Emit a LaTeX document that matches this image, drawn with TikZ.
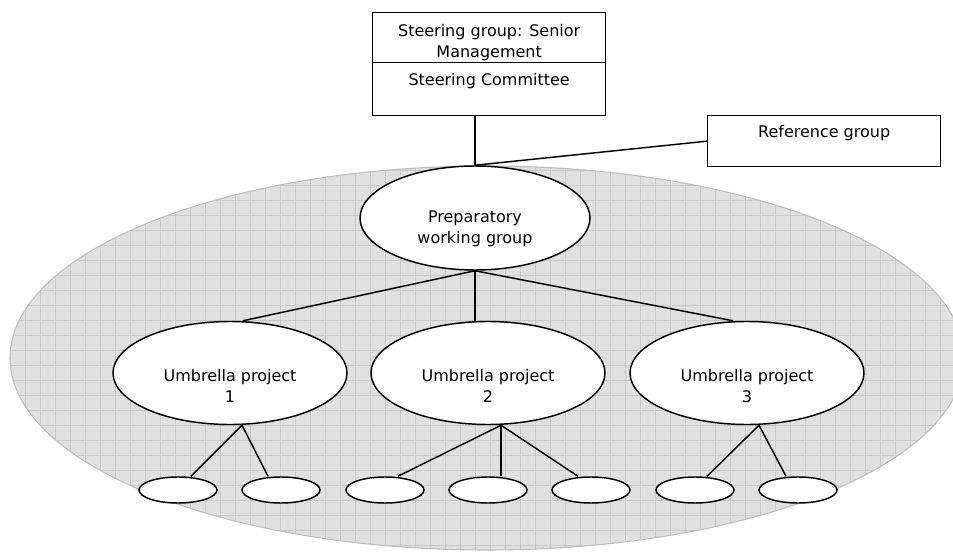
\documentclass[tikz,border=0pt]{standalone}
\usepackage{fontspec}
\setmainfont{DejaVu Sans}
\usetikzlibrary{shapes.geometric}
\definecolor{gridbg}{HTML}{E0E0E0}
\definecolor{gridln}{HTML}{C9C9C9}
\definecolor{ovalln}{HTML}{BDBDBD}
\begin{document}
\begin{tikzpicture}[x=0.75pt,y=-0.75pt,
  lbl/.style={font=\fontsize{12}{15.75}\selectfont, align=center, inner sep=0pt},
  cell/.style={draw, line width=1pt, minimum width=233*0.75pt, inner sep=0pt, anchor=north west},
  bubble/.style={draw, ellipse, fill=white, line width=1.1pt, inner sep=0pt},
  umb/.style={bubble, minimum width=234*0.75pt, minimum height=103*0.75pt},
  small/.style={bubble, minimum width=78*0.75pt, minimum height=26*0.75pt},
  link/.style={line width=1.1pt}]
\useasboundingbox (0,0) rectangle (953,552);
\clip (0,0) rectangle (953,552);
% big hatched oval
\begin{scope}
  \clip (487,358) ellipse [x radius=477, y radius=192];
  \fill[gridbg] (0,150) rectangle (953,552);
  \foreach \gx in {10,25,...,955} \draw[gridln, line width=0.5pt] (\gx,150) -- (\gx,552);
  \foreach \gy in {155,170,...,552} \draw[gridln, line width=0.5pt] (0,\gy) -- (953,\gy);
\end{scope}
\draw[ovalln, line width=0.8pt] (487,358) ellipse [x radius=477, y radius=192];

% top boxes
\node[cell, minimum height=50*0.75pt] (sg) at (372,12) {};
\node[lbl] (sgt) at ([yshift=-4.5*0.75pt]sg.center) {Steering group: Senior\\Management};
\node[cell, minimum height=53*0.75pt] (sc) at (372,62) {};
\node[lbl] (sct) at ([yshift=-19*0.75pt]sc.north) {Steering Committee};
\node[cell, minimum height=51*0.75pt] (ref) at (707,115) {};
\node[lbl] (reft) at ([yshift=-18*0.75pt]ref.north) {Reference group};

% ellipses
\node[bubble, minimum width=230*0.75pt, minimum height=104*0.75pt] (prep) at (475,218) {};
\node[umb] (u1) at (230,373) {};
\node[umb] (u2) at (488,373) {};
\node[umb] (u3) at (747,373) {};
\foreach \n/\cx in {s11/178, s12/281, s21/385, s22/488, s23/591, s31/695, s32/798}
  \node[small] (\n) at (\cx,490) {};

% connectors
\draw[link] (prep.north) -- (prep.north |- sc.south);
\draw[link] (prep.north) -- (ref.west);
\draw[link] (prep.south) -- ([xshift=13*0.75pt]u1.north);
\draw[link] (prep.south) -- ([xshift=-13*0.75pt]u2.north);
\draw[link] (prep.south) -- ([xshift=-14*0.75pt]u3.north);
\draw[link] ([xshift=12*0.75pt]u1.south) -- ([xshift=13*0.75pt]s11.north);
\draw[link] ([xshift=12*0.75pt]u1.south) -- ([xshift=-13*0.75pt]s12.north);
\draw[link] ([xshift=13*0.75pt]u2.south) -- ([xshift=13*0.75pt]s21.north);
\draw[link] ([xshift=13*0.75pt]u2.south) -- ([xshift=13*0.75pt]s22.north);
\draw[link] ([xshift=13*0.75pt]u2.south) -- ([xshift=-13*0.75pt]s23.north);
\draw[link] ([xshift=12*0.75pt]u3.south) -- ([xshift=12*0.75pt]s31.north);
\draw[link] ([xshift=12*0.75pt]u3.south) -- ([xshift=-12*0.75pt]s32.north);

% texts in ellipses
\node[lbl] (prept) at ([yshift=-10.5*0.75pt]prep.center) {Preparatory\\working group};
\node[lbl] (u1t) at ([yshift=-13*0.75pt]u1.center) {Umbrella project\\1};
\node[lbl] (u2t) at ([yshift=-13*0.75pt]u2.center) {Umbrella project\\2};
\node[lbl] (u3t) at ([yshift=-13*0.75pt]u3.center) {Umbrella project\\3};
\end{tikzpicture}
\end{document}
